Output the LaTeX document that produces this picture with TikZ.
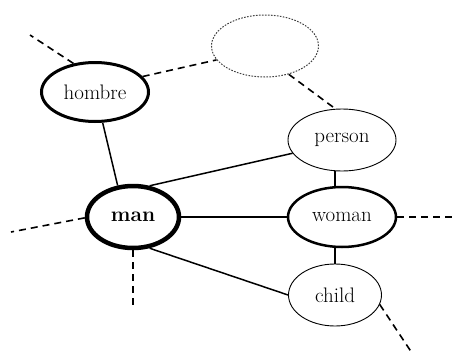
\documentclass[tikz,border=0pt]{standalone}
\usetikzlibrary{shapes.geometric}
\begin{document}
\begin{tikzpicture}[x=1pt,y=-1pt,
  concept/.style={ellipse, draw, inner sep=0pt, font=\fontsize{21}{24}\selectfont},
  link/.style={line width=1.5pt},
  loose/.style={line width=1.6pt, dash pattern=on 7pt off 5pt},
]
\useasboundingbox (0,0) rectangle (453,354);

% concept nodes
\node[concept, line width=3pt, minimum width=107pt, minimum height=59pt] (hombre) at (95,92) {hombre};
\node[concept, draw=black!75, line width=1pt, dash pattern=on 1.6pt off 1.4pt, minimum width=107pt, minimum height=62pt] (blank) at (265,46) {};
\node[concept, line width=0.9pt, minimum width=108pt, minimum height=62pt] (person) at (342,140) {person};
\node[concept, line width=4.5pt, minimum width=92pt, minimum height=62pt] (man) at (133,217) {\bfseries man};
\node[concept, line width=2.5pt, minimum width=108pt, minimum height=60pt] (woman) at (342,217) {woman};
\node[concept, line width=0.9pt, minimum width=93pt, minimum height=62pt] (child) at (335,295) {child};

% free ends of the open links
\coordinate (hombreOut) at (30,35);
\coordinate (manLeft) at (11,232);
\coordinate (manDown) at (133,310);
\coordinate (womanOut) at (452,217);
\coordinate (childOut) at (412,353);

% solid links
\draw[link] (hombre.-76) -- (man.116);
\draw[link] (man.62) -- (person.195);
\draw[link] (man.east) -- (woman.west);
\draw[link] (man.-62) -- (child.west);
\draw[link] ([xshift=-7pt]person.south) -- ([xshift=-7pt]woman.north);
\draw[link] ([xshift=-7pt]woman.south) -- (child.north);

% dashed links
\draw[loose] (hombre.127) -- (hombreOut);
\draw[loose] (hombre.18) -- (blank.196);
\draw[loose] (blank.-50) -- (person.102);
\draw[loose] (man.181) -- (manLeft);
\draw[loose] (man.south) -- (manDown);
\draw[loose] (woman.east) -- (womanOut);
\draw[loose] (child.-12) -- (childOut);
\end{tikzpicture}
\end{document}
